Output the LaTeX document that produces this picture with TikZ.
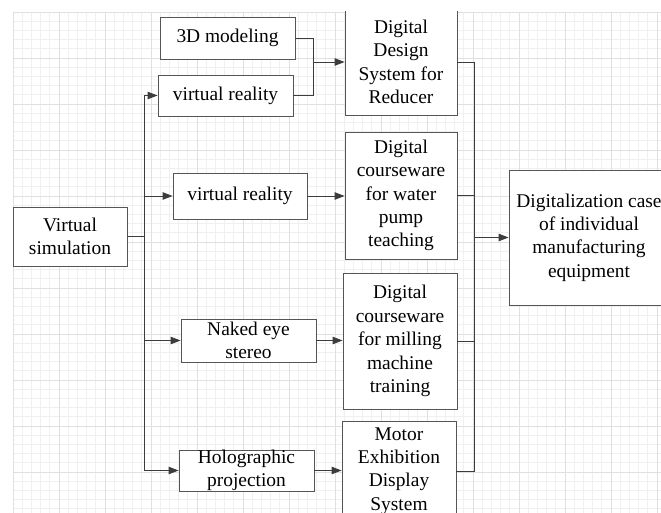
\documentclass[tikz,border=0pt]{standalone}
\usepackage{fontspec}
\newfontfamily\boxfont[Extension=.ttf,BoldFont=LiberationSerif-Bold]{LiberationSerif-Regular}
\usetikzlibrary{arrows.meta}
\definecolor{gridmin}{HTML}{F0F0F0}
\definecolor{gridmaj}{HTML}{E0E0E0}
\definecolor{boxline}{HTML}{555555}
\definecolor{linkc}{HTML}{3C3C3C}

\begin{document}
\begin{tikzpicture}[x=1bp,y=-1bp,>={Triangle[length=10bp,width=7.5bp]}, box/.style={draw=boxline,fill=white,line width=0.9bp,align=center,inner sep=0pt,font=\boxfont\fontsize{19.5}{23.5}\selectfont}, link/.style={draw=linkc,line width=0.9bp}]
  \useasboundingbox (0,0) rectangle (661,513);
  \clip (13,12) rectangle (661,513);
  \foreach \i in {0,...,71}{\draw[gridmin,line width=0.7bp] ({13+9.2*\i},12) -- ({13+9.2*\i},513);}
  \foreach \i in {0,...,55}{\draw[gridmin,line width=0.7bp] (13,{12+9.2*\i}) -- (661,{12+9.2*\i});}
  \foreach \i in {0,...,14}{\draw[gridmaj,line width=0.8bp] ({13+46*\i},12) -- ({13+46*\i},513);}
  \foreach \i in {0,...,11}{\draw[gridmaj,line width=0.8bp] (13,{12+46*\i}) -- (661,{12+46*\i});}
  % sources
  \node[box,minimum width=114bp,minimum height=59bp] (vs) at (70,236.5) {Virtual\\simulation};
  \node[box,minimum width=135bp,minimum height=42bp] (m3d) at (227.5,38) {3D modeling};
  \node[box,minimum width=135bp,minimum height=41bp] (vr1) at (225.5,95.5) {virtual reality};
  \node[box,minimum width=134bp,minimum height=46bp] (vr2) at (240,196) {virtual reality};
  \node[box,minimum width=135bp,minimum height=43bp] (eye) at (248.5,340.5) {Naked eye\\stereo};
  \node[box,minimum width=135bp,minimum height=41bp] (holo) at (246.5,470.5) {Holographic\\projection};
  % systems
  \node[box,minimum width=112bp,minimum height=106bp] (dds) at (401,62) {Digital\\Design\\System for\\Reducer};
  \node[box,minimum width=112bp,minimum height=127bp] (pump) at (401,195.5) {Digital\\courseware\\for water\\pump\\teaching};
  \node[box,minimum width=114bp,minimum height=136bp] (mill) at (400,341) {Digital\\courseware\\for milling\\machine\\training};
  \node[box,minimum width=114bp,minimum height=100bp] (motor) at (399,471) {Motor\\Exhibition\\Display\\System};
  \node[box,minimum width=160bp,minimum height=135bp] (case) at (589,237.5) {Digitalization case\\of individual\\manufacturing\\equipment};
  % links
  \coordinate (jv) at (144,236.5);
  \coordinate (jl) at (313,62);
  \coordinate (jr) at (474,237.5);
  \draw[link] (vs.east) -- (jv);
  \foreach \n in {vr1,vr2,eye,holo}{\draw[link,->] (jv) |- (\n.west);}
  \draw[link] (m3d.east) -| (jl);
  \draw[link] (vr1.east) -| (jl);
  \draw[link,->] (jl) -- (dds.west);
  \draw[link,->] (vr2.east) -- (vr2.east -| pump.west);
  \draw[link,->] (eye.east) -- (eye.east -| mill.west);
  \draw[link,->] (holo.east) -- (holo.east -| motor.west);
  \foreach \n in {dds,pump,mill,motor}{\draw[link] (\n.east) -| (jr);}
  \draw[link,->] (jr) -- (case.west);
\end{tikzpicture}
\end{document}
